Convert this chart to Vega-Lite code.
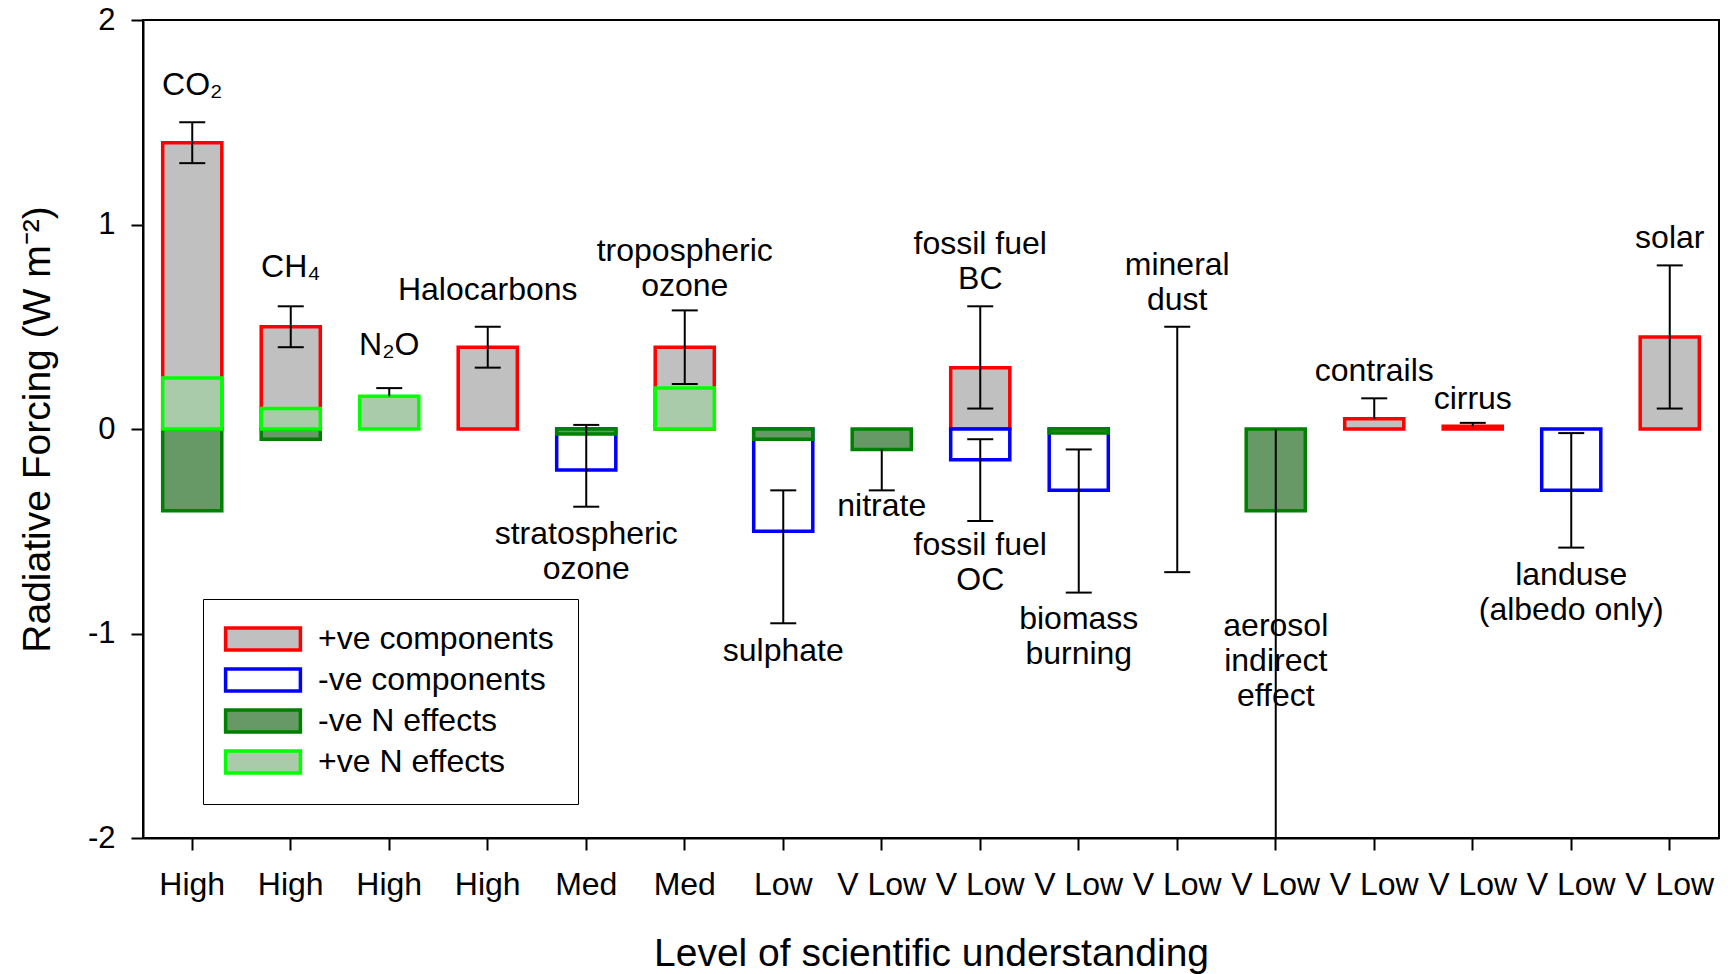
{
  "$schema": "https://vega.github.io/schema/vega-lite/v6.json",
  "autosize": "none",
  "width": 1576,
  "height": 818,
  "padding": {"left": 143, "top": 20, "right": 11, "bottom": 136},
  "config": {
    "font": "Liberation Sans",
    "view": {"stroke": "black", "strokeWidth": 2},
    "axis": {"domainColor": "black", "domainWidth": 2, "tickColor": "black", "tickWidth": 2, "labelColor": "black", "titleColor": "black", "grid": false, "titleFontWeight": "normal"}
  },
  "datasets": {
    "bars": [
      {"idx": 0, "item": "CO2", "type": "+ve components", "y": 1.40},
      {"idx": 1, "item": "CH4", "type": "+ve components", "y": 0.50},
      {"idx": 3, "item": "Halocarbons", "type": "+ve components", "y": 0.40},
      {"idx": 5, "item": "tropospheric ozone", "type": "+ve components", "y": 0.40},
      {"idx": 8, "item": "fossil fuel BC", "type": "+ve components", "y": 0.30},
      {"idx": 12, "item": "contrails", "type": "+ve components", "y": 0.05},
      {"idx": 13, "item": "cirrus", "type": "+ve components", "y": 0.013},
      {"idx": 15, "item": "solar", "type": "+ve components", "y": 0.45},
      {"idx": 4, "item": "stratospheric ozone", "type": "-ve components", "y": -0.20},
      {"idx": 6, "item": "sulphate", "type": "-ve components", "y": -0.50},
      {"idx": 8, "item": "fossil fuel OC", "type": "-ve components", "y": -0.15},
      {"idx": 9, "item": "biomass burning", "type": "-ve components", "y": -0.30},
      {"idx": 14, "item": "landuse", "type": "-ve components", "y": -0.30},
      {"idx": 0, "item": "CO2", "type": "-ve N effects", "y": -0.40},
      {"idx": 1, "item": "CH4", "type": "-ve N effects", "y": -0.05},
      {"idx": 4, "item": "stratospheric ozone", "type": "-ve N effects", "y": -0.025},
      {"idx": 6, "item": "sulphate", "type": "-ve N effects", "y": -0.05},
      {"idx": 7, "item": "nitrate", "type": "-ve N effects", "y": -0.10},
      {"idx": 9, "item": "biomass burning", "type": "-ve N effects", "y": -0.02},
      {"idx": 11, "item": "aerosol indirect effect", "type": "-ve N effects", "y": -0.40},
      {"idx": 0, "item": "CO2", "type": "+ve N effects", "y": 0.25},
      {"idx": 1, "item": "CH4", "type": "+ve N effects", "y": 0.10},
      {"idx": 2, "item": "N2O", "type": "+ve N effects", "y": 0.16},
      {"idx": 5, "item": "tropospheric ozone", "type": "+ve N effects", "y": 0.20}
    ],
    "errs": [
      {"idx": 0, "y": 1.30, "y2": 1.50},
      {"idx": 1, "y": 0.40, "y2": 0.60},
      {"idx": 2, "y": 0.16, "y2": 0.20},
      {"idx": 3, "y": 0.30, "y2": 0.50},
      {"idx": 4, "y": -0.38, "y2": 0.02},
      {"idx": 5, "y": 0.22, "y2": 0.58},
      {"idx": 6, "y": -0.95, "y2": -0.30},
      {"idx": 7, "y": -0.30, "y2": -0.10},
      {"idx": 8, "y": 0.10, "y2": 0.60},
      {"idx": 8, "y": -0.45, "y2": -0.05},
      {"idx": 9, "y": -0.80, "y2": -0.10},
      {"idx": 10, "y": -0.70, "y2": 0.50},
      {"idx": 11, "y": -2.0, "y2": 0},
      {"idx": 12, "y": 0.05, "y2": 0.15},
      {"idx": 13, "y": 0.013, "y2": 0.03},
      {"idx": 14, "y": -0.58, "y2": -0.02},
      {"idx": 15, "y": 0.10, "y2": 0.80}
    ],
    "caps": [
      {"idx": 0, "y": 1.30}, {"idx": 0, "y": 1.50},
      {"idx": 1, "y": 0.40}, {"idx": 1, "y": 0.60},
      {"idx": 2, "y": 0.20},
      {"idx": 3, "y": 0.30}, {"idx": 3, "y": 0.50},
      {"idx": 4, "y": -0.38}, {"idx": 4, "y": 0.02},
      {"idx": 5, "y": 0.22}, {"idx": 5, "y": 0.58},
      {"idx": 6, "y": -0.95}, {"idx": 6, "y": -0.30},
      {"idx": 7, "y": -0.30},
      {"idx": 8, "y": 0.10}, {"idx": 8, "y": 0.60},
      {"idx": 8, "y": -0.45}, {"idx": 8, "y": -0.05},
      {"idx": 9, "y": -0.80}, {"idx": 9, "y": -0.10},
      {"idx": 10, "y": -0.70}, {"idx": 10, "y": 0.50},
      {"idx": 12, "y": 0.15},
      {"idx": 13, "y": 0.03},
      {"idx": 14, "y": -0.58}, {"idx": 14, "y": -0.02},
      {"idx": 15, "y": 0.10}, {"idx": 15, "y": 0.80}
    ],
    "labels": [
      {"idx": 0, "y": 1.68, "text": "CO₂"},
      {"idx": 1, "y": 0.79, "text": "CH₄"},
      {"idx": 2, "y": 0.41, "text": "N₂O"},
      {"idx": 3, "y": 0.68, "text": "Halocarbons"},
      {"idx": 4, "y": -0.513, "text": "stratospheric\nozone"},
      {"idx": 5, "y": 0.869, "text": "tropospheric\nozone"},
      {"idx": 6, "y": -1.085, "text": "sulphate"},
      {"idx": 7, "y": -0.378, "text": "nitrate"},
      {"idx": 8, "y": 0.907, "text": "fossil fuel\nBC"},
      {"idx": 8, "y": -0.567, "text": "fossil fuel\nOC"},
      {"idx": 9, "y": -0.928, "text": "biomass\nburning"},
      {"idx": 10, "y": 0.804, "text": "mineral\ndust"},
      {"idx": 11, "y": -0.961, "text": "aerosol\nindirect\neffect"},
      {"idx": 12, "y": 0.286, "text": "contrails"},
      {"idx": 13, "y": 0.146, "text": "cirrus"},
      {"idx": 14, "y": -0.7125, "text": "landuse\n(albedo only)"},
      {"idx": 15, "y": 0.934, "text": "solar"}
    ]
  },
  "layer": [
    {
      "data": {"name": "bars"},
      "mark": {"type": "bar", "strokeWidth": 3.5, "width": {"band": 0.6}},
      "encoding": {
        "x": {
          "field": "idx", "type": "ordinal",
          "scale": {"domain": [0,1,2,3,4,5,6,7,8,9,10,11,12,13,14,15], "paddingInner": 0, "paddingOuter": 0},
          "axis": {
            "title": "Level of scientific understanding",
            "titleFontSize": 39, "titlePadding": 34,
            "labelFontSize": 32, "labelPadding": 19, "labelAngle": 0, "tickSize": 12,
            "labelExpr": "['High','High','High','High','Med','Med','Low','V Low','V Low','V Low','V Low','V Low','V Low','V Low','V Low','V Low'][datum.value]"
          }
        },
        "y": {
          "field": "y", "type": "quantitative",
          "scale": {"domain": [-2, 2], "nice": false, "zero": false},
          "axis": {
            "title": "Radiative Forcing (W m⁻²)",
            "titleFontSize": 39, "titlePadding": 30,
            "labelFontSize": 31, "labelPadding": 16, "tickSize": 12,
            "values": [-2, -1, 0, 1, 2],
            "labelExpr": "'' + datum.value"
          }
        },
        "y2": {"datum": 0},
        "fill": {
          "field": "type", "type": "nominal",
          "scale": {"domain": ["+ve components", "-ve components", "-ve N effects", "+ve N effects"], "range": ["#c0c0c0", "#ffffff", "#669966", "#aacbaa"]},
          "legend": {
            "title": null, "orient": "none", "legendX": 60, "legendY": 579,
            "strokeColor": "black", "padding": 24,
            "symbolType": "M-3.4,-1H3.4V1H-3.4Z", "symbolSize": 484, "symbolStrokeWidth": 3.5, "symbolOpacity": 1, "symbolOffset": 20,
            "labelFontSize": 32, "labelOffset": 39, "labelLimit": 0, "rowPadding": 5, "labelColor": "black"
          }
        },
        "stroke": {
          "field": "type", "type": "nominal",
          "scale": {"domain": ["+ve components", "-ve components", "-ve N effects", "+ve N effects"], "range": ["#ff0000", "#0000ff", "#008000", "#00ff00"]},
          "legend": {
            "title": null, "orient": "none", "legendX": 60, "legendY": 579,
            "strokeColor": "black", "padding": 24,
            "symbolType": "M-3.4,-1H3.4V1H-3.4Z", "symbolSize": 484, "symbolStrokeWidth": 3.5, "symbolOpacity": 1, "symbolOffset": 20,
            "labelFontSize": 32, "labelOffset": 39, "labelLimit": 0, "rowPadding": 5, "labelColor": "black"
          }
        }
      }
    },
    {
      "mark": {"type": "rule", "color": "black", "strokeWidth": 2.5},
      "encoding": {"y": {"datum": 0}}
    },
    {
      "data": {"name": "errs"},
      "mark": {"type": "rule", "color": "black", "strokeWidth": 2},
      "encoding": {
        "x": {"field": "idx", "type": "ordinal"},
        "y": {"field": "y", "type": "quantitative"},
        "y2": {"field": "y2"}
      }
    },
    {
      "data": {"name": "caps"},
      "mark": {"type": "tick", "color": "black", "size": 26, "thickness": 2, "opacity": 1},
      "encoding": {
        "x": {"field": "idx", "type": "ordinal"},
        "y": {"field": "y", "type": "quantitative"}
      }
    },
    {
      "data": {"name": "labels"},
      "mark": {"type": "text", "fontSize": 32, "lineHeight": 35, "align": "center", "baseline": "middle", "lineBreak": "\n", "color": "black"},
      "encoding": {
        "x": {"field": "idx", "type": "ordinal"},
        "y": {"field": "y", "type": "quantitative"},
        "text": {"field": "text"}
      }
    }
  ]
}
